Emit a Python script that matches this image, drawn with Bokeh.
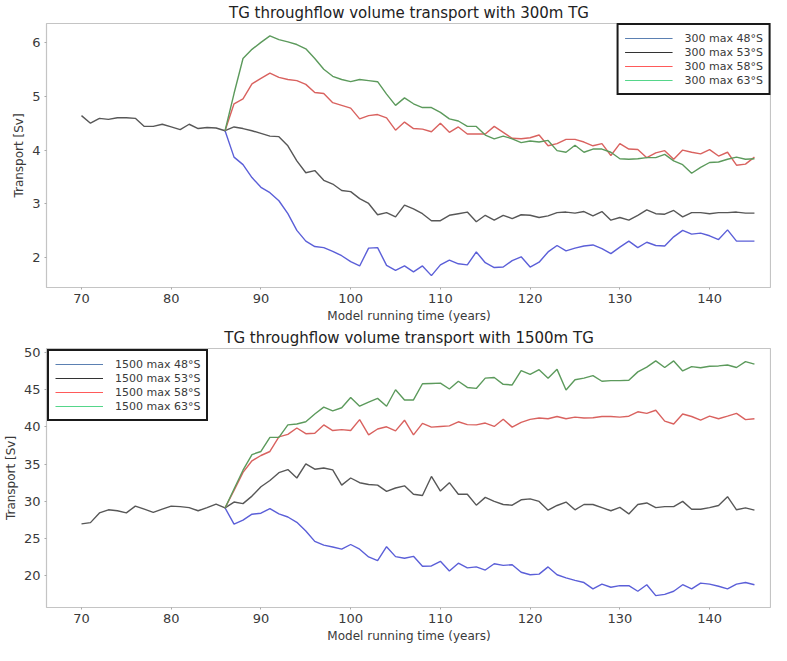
from bokeh.plotting import figure
from bokeh.models import Range1d, Legend, LegendItem, FixedTicker
from bokeh.layouts import column
from bokeh.embed import file_html
from bokeh.resources import INLINE

years = list(range(70, 146))
years_exp = list(range(86, 146))

# ---- 300m TG ----
black_300 = [4.64, 4.50, 4.59, 4.57, 4.60, 4.60, 4.59, 4.44, 4.44, 4.48,
             4.43, 4.38, 4.48, 4.40, 4.42, 4.41, 4.36, 4.43, 4.40, 4.36,
             4.31, 4.26, 4.25, 4.08, 3.80, 3.58, 3.62, 3.44, 3.37, 3.25,
             3.23, 3.10, 3.01, 2.80, 2.84, 2.76, 2.98, 2.91, 2.82, 2.69,
             2.69, 2.79, 2.82, 2.85, 2.67, 2.79, 2.70, 2.79, 2.73, 2.80,
             2.79, 2.75, 2.78, 2.84, 2.85, 2.83, 2.86, 2.78, 2.86, 2.70,
             2.75, 2.70, 2.79, 2.89, 2.82, 2.81, 2.88, 2.76, 2.84, 2.84,
             2.82, 2.84, 2.84, 2.85, 2.83, 2.83]
blue_300 = [4.36, 3.87, 3.73, 3.49, 3.31, 3.21, 3.06, 2.82, 2.51, 2.31,
            2.21, 2.19, 2.12, 2.04, 1.93, 1.85, 2.18, 2.19, 1.86, 1.77,
            1.85, 1.74, 1.85, 1.67, 1.87, 1.96, 1.89, 1.87, 2.11, 1.91,
            1.82, 1.83, 1.95, 2.02, 1.83, 1.92, 2.11, 2.23, 2.13, 2.18,
            2.22, 2.24, 2.17, 2.08, 2.20, 2.31, 2.19, 2.29, 2.23, 2.22,
            2.39, 2.51, 2.44, 2.46, 2.41, 2.34, 2.52, 2.31, 2.31, 2.31]
red_300 = [4.36, 4.86, 4.95, 5.23, 5.33, 5.43, 5.35, 5.31, 5.29, 5.22,
           5.07, 5.05, 4.88, 4.83, 4.78, 4.58, 4.64, 4.66, 4.60, 4.37,
           4.52, 4.40, 4.39, 4.34, 4.50, 4.33, 4.43, 4.30, 4.30, 4.30,
           4.44, 4.33, 4.22, 4.21, 4.23, 4.28, 4.08, 4.12, 4.20, 4.20,
           4.15, 4.08, 4.12, 3.90, 4.12, 4.02, 4.01, 3.86, 3.95, 3.99,
           3.83, 4.00, 3.96, 3.93, 4.01, 3.89, 3.96, 3.72, 3.74, 3.87]
green_300 = [4.36, 5.05, 5.70, 5.87, 6.00, 6.12, 6.05, 6.01, 5.96, 5.88,
             5.70, 5.50, 5.37, 5.31, 5.27, 5.31, 5.29, 5.27, 5.04, 4.83,
             4.97, 4.86, 4.79, 4.79, 4.70, 4.58, 4.54, 4.44, 4.44, 4.28,
             4.21, 4.26, 4.21, 4.14, 4.17, 4.15, 4.18, 3.99, 3.96, 4.09,
             3.96, 4.02, 4.02, 3.96, 3.84, 3.83, 3.84, 3.86, 3.86, 3.92,
             3.80, 3.73, 3.57, 3.68, 3.77, 3.78, 3.83, 3.87, 3.83, 3.84]

# ---- 1500m TG ----
black_1500 = [26.99, 27.16, 28.46, 28.88, 28.75, 28.46, 29.38, 28.96, 28.54, 28.96,
              29.38, 29.30, 29.17, 28.75, 29.17, 29.63, 29.13, 29.92, 29.71, 30.72,
              31.98, 32.82, 33.86, 34.28, 33.15, 35.04, 34.33, 34.49, 34.24, 32.19,
              33.15, 32.52, 32.27, 32.19, 31.35, 31.81, 32.10, 30.97, 30.80, 33.36,
              31.39, 32.52, 30.97, 30.97, 29.50, 30.55, 30.01, 29.59, 29.50, 30.22,
              30.34, 30.01, 28.83, 29.46, 29.92, 28.88, 29.59, 29.59, 29.17, 28.75,
              29.21, 28.33, 29.59, 29.80, 29.17, 29.30, 29.30, 30.01, 28.96, 28.96,
              29.17, 29.46, 30.64, 28.88, 29.13, 28.83]
blue_1500 = [29.13, 26.95, 27.49, 28.29, 28.42, 29.04, 28.33, 27.91, 27.20, 26.03,
             24.64, 24.13, 23.89, 23.59, 24.22, 23.59, 22.55, 22.05, 23.93, 22.59,
             22.38, 22.63, 21.29, 21.34, 21.96, 20.66, 21.71, 21.08, 21.21, 20.79,
             21.63, 21.42, 21.50, 20.49, 20.16, 20.24, 21.21, 20.16, 19.74, 19.40,
             19.11, 18.27, 18.90, 18.48, 18.69, 18.69, 17.94, 18.82, 17.35, 17.52,
             17.94, 18.82, 18.27, 19.03, 18.90, 18.61, 18.27, 18.90, 19.11, 18.82]
red_1500 = [29.13, 31.47, 33.90, 35.46, 36.17, 36.71, 38.68, 39.00, 39.86, 39.10,
            39.15, 40.28, 39.52, 39.65, 39.52, 40.99, 38.94, 39.73, 40.03, 39.48,
            40.91, 38.94, 40.49, 39.98, 40.07, 40.15, 40.70, 40.32, 40.28, 40.53,
            40.07, 41.03, 39.98, 40.61, 41.03, 41.20, 41.11, 41.41, 41.11, 41.32,
            41.20, 41.24, 41.41, 41.41, 41.32, 41.45, 42.04, 41.83, 42.25, 40.78,
            40.40, 41.74, 41.41, 40.91, 41.45, 41.11, 41.45, 41.83, 40.99, 41.11]
green_1500 = [29.13, 31.68, 34.20, 36.30, 36.71, 38.60, 38.60, 40.28, 40.40, 40.70,
              41.74, 42.67, 42.16, 42.58, 43.96, 42.79, 43.34, 43.84, 42.79, 45.00,
              43.63, 43.63, 45.81, 45.85, 45.89, 45.10, 46.14, 45.31, 45.18, 46.56,
              46.65, 45.73, 45.64, 47.57, 47.07, 47.69, 46.56, 47.74, 44.97, 46.35,
              46.56, 46.90, 46.14, 46.23, 46.23, 46.27, 47.40, 48.03, 48.87, 47.99,
              48.87, 47.53, 48.11, 47.95, 48.16, 48.20, 48.32, 47.99, 48.78, 48.45]

labels_300 = ["300 max 48°S", "300 max 53°S", "300 max 58°S", "300 max 63°S"]
labels_1500 = ["1500 max 48°S", "1500 max 53°S", "1500 max 58°S", "1500 max 63°S"]
x_ticks = [70, 80, 90, 100, 110, 120, 130, 140]
y_ticks_300 = [2, 3, 4, 5, 6]
y_ticks_1500 = [20, 25, 30, 35, 40, 45, 50]

line_colors = ["#5b5fd8", "#575757", "#d9625f", "#5c9a5c"]
legend_colors = ["#5b80b2", "#333333", "#ff5a5a", "#55d68a"]
FONT = "DejaVu Sans"
TXT = "#3a3a3a"
NAN = float("nan")


def make_fig(title, height, yr, yticks, series, labels, loc):
    p = figure(width=771, height=height, output_backend="svg",
               toolbar_location=None, x_range=Range1d(66.1, 146.9),
               y_range=yr, min_border_left=41, min_border_right=0,
               min_border_top=0, min_border_bottom=0)
    p.title.text = title
    p.title.align = "center"
    p.title.text_font = FONT
    p.title.text_font_size = "15px"
    p.title.text_font_style = "normal"
    p.title.text_color = "#222222"
    p.title.standoff = 3
    p.xgrid.visible = False
    p.ygrid.visible = False
    p.outline_line_color = "#c4c4c4"
    p.outline_line_width = 1.2
    for ax in (p.xaxis[0], p.yaxis[0]):
        ax.axis_line_color = None
        ax.major_tick_line_color = "#aaaaaa"
        ax.major_tick_in = 0
        ax.major_tick_out = 2
        ax.minor_tick_line_color = None
        ax.major_label_text_font = FONT
        ax.major_label_text_font_size = "13px"
        ax.major_label_text_color = TXT
        ax.axis_label_text_font = FONT
        ax.axis_label_text_font_size = "12px"
        ax.axis_label_text_font_style = "normal"
        ax.axis_label_text_color = TXT
        ax.major_label_standoff = 4
        ax.axis_label_standoff = 3
    p.xaxis[0].ticker = FixedTicker(ticks=x_ticks)
    p.yaxis[0].ticker = FixedTicker(ticks=yticks)
    p.xaxis[0].axis_label = "Model running time (years)"
    p.yaxis[0].axis_label = "Transport [Sv]"

    xs = [years_exp, years, years_exp, years_exp]
    for i, (x, y) in enumerate(zip(xs, series)):
        p.line(x, y, line_color=line_colors[i], line_width=1.4)

    items = []
    for i, lab in enumerate(labels):
        r = p.line([years[0], years[1]], [NAN, NAN],
                   line_color=legend_colors[i], line_width=1.0)
        items.append(LegendItem(label=lab, renderers=[r]))
    leg = Legend(items=items, location=loc, margin=1 if loc == "top_left" else 0,
                 glyph_width=48, glyph_height=14, label_height=14,
                 label_standoff=12, spacing=0, padding=6,
                 label_text_font=FONT, label_text_font_size="11px",
                 label_text_color=TXT, border_line_color="#1a1a1a",
                 border_line_alpha=1.0, border_line_width=2,
                 background_fill_alpha=1.0)
    p.add_layout(leg, "center")
    return p


p1 = make_fig("TG throughflow volume transport with 300m TG", 325,
              Range1d(1.45, 6.35), y_ticks_300,
              [blue_300, black_300, red_300, green_300], labels_300, "top_right")
p2 = make_fig("TG throughflow volume transport with 1500m TG", 320,
              Range1d(15.76, 50.54), y_ticks_1500,
              [blue_1500, black_1500, red_1500, green_1500], labels_1500, "top_left")

layout = column(p1, p2, spacing=0)
open("out.html", "w").write(file_html(layout, INLINE))
